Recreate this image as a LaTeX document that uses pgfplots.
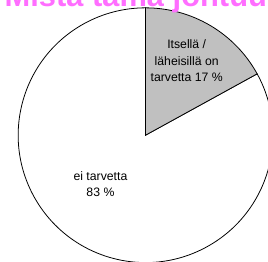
\documentclass[border=0pt]{standalone}
\usepackage{pgfplots}
\usepackage{pgfplotstable}
\pgfplotsset{compat=1.18}
\usepackage{fontspec}
\setmainfont{Liberation Sans}
\definecolor{slicegray}{RGB}{192,192,192}
\definecolor{titlepink}{RGB}{255,110,255}
\pgfplotstableread{
label value
itse 17
ei 83
}\piedata
\begin{document}
\pgfplotstablegetelem{0}{value}\of\piedata
\let\va\pgfplotsretval
\pgfmathsetmacro{\angA}{90-3.6*\va}
\pgfmathsetmacro{\angEnd}{\angA-360+3.6*\va}
\begin{tikzpicture}[x=1pt,y=1pt]
\useasboundingbox (0,0) rectangle (268,267);
\clip (0,0) rectangle (268,267);
\begin{axis}[
  hide axis, scale only axis,
  width=260pt, height=260pt,
  xmin=-1, xmax=1, ymin=-1, ymax=1,
  at={(143pt,129pt)}, anchor=center,
  clip=false,
]
\draw[fill=white, line width=0.8pt] (axis cs:0,0) -- (axis cs:{cos(\angA)},{sin(\angA)}) arc[start angle=\angA, end angle=-270, radius=130pt] -- cycle;
\draw[fill=slicegray, line width=0.8pt] (axis cs:0,0) -- (axis cs:0,1) arc[start angle=90, end angle=\angA, radius=130pt] -- cycle;
\node[align=center, font=\fontsize{12.5}{16.5}\selectfont, inner sep=0] at (axis cs:0.323,0.585) {Itsellä /\\läheisillä on\\tarvetta 17 \%};
\node[align=center, font=\fontsize{12.5}{16.5}\selectfont, inner sep=0] at (axis cs:-0.354,-0.381) {ei tarvetta\\83 \%};
\end{axis}
\node[anchor=base west, inner sep=0, text=titlepink, font=\fontsize{31.5}{36}\selectfont\bfseries] at (-1,260) {Mistä tämä johtuu};
\end{tikzpicture}
\end{document}
